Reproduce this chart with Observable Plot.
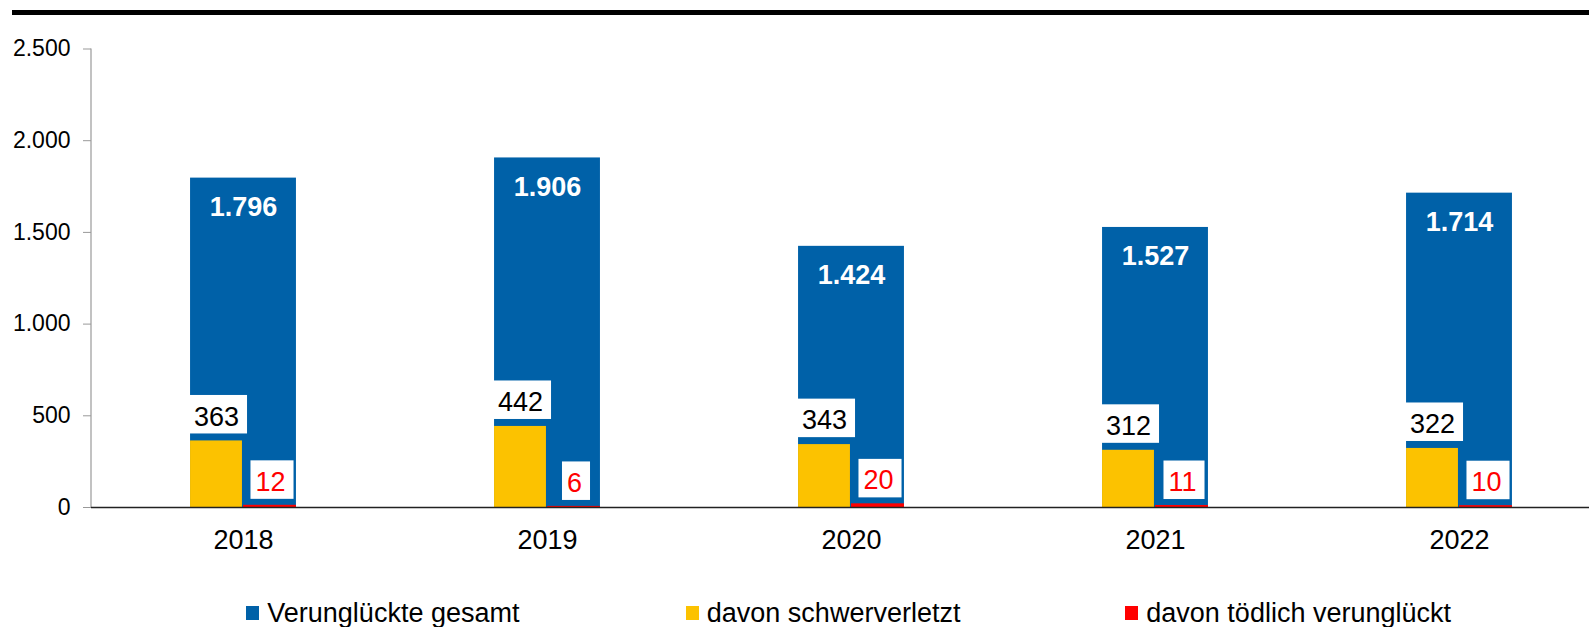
<!DOCTYPE html>
<html><head><meta charset="utf-8">
<script src="https://cdn.jsdelivr.net/npm/d3@7"></script>
<script src="https://cdn.jsdelivr.net/npm/@observablehq/plot@0.6"></script>
<style>
body{margin:0;background:#fff;font-family:"Liberation Sans",Arial,sans-serif;}
#wrap{position:relative;width:1589px;height:627px;overflow:hidden;background:#fff;}
#topline{position:absolute;left:12px;right:0;top:10px;height:5px;background:#000;}
#chart{position:absolute;left:0;top:0;}
.legend-item{position:absolute;top:599px;height:28px;display:flex;align-items:center;font-size:27px;line-height:28px;color:#000;white-space:nowrap;}
.sw{display:inline-block;width:13.3px;height:13.3px;margin-right:8px;}
</style></head><body>
<div id="wrap"><div id="chart"></div><div id="topline"></div><div id="legend"></div></div>
<script>
const years = ["2018","2019","2020","2021","2022"];
const total = [1796,1906,1424,1527,1714];
const serious = [363,442,343,312,322];
const fatal = [12,6,20,11,10];
const yTicks = [0,500,1000,1500,2000,2500];
const seriesNames = ["Verunglückte gesamt","davon schwerverletzt","davon tödlich verunglückt"];
const seriesColors = ["#0061a8","#fcc200","#ff0000"];

const data = years.map((year,i)=>({year,total:total[i],serious:serious[i],fatal:fatal[i]}));
const de = d3.formatLocale({decimal:",",thousands:".",grouping:[3],currency:["","\u00a0€"]});
const fmt = de.format(",d");

const W=1589,H=575, step=304.1, barW=106;
const side=(step-barW)/2;
const half=barW/2;
const font='"Liberation Sans", Arial, sans-serif';

const plot = Plot.plot({
  width:W,height:H,marginLeft:91,marginRight:0,marginTop:48.5,marginBottom:68,
  style:{fontFamily:font, background:"transparent", overflow:"visible"},
  x:{domain:years, range:[91, 91+step*years.length], padding:0, label:null},
  y:{domain:[0,2500], label:null},
  marks:[
    Plot.barY(data,{x:"year",y:"total",fill:seriesColors[0],insetLeft:side,insetRight:side}),
    Plot.barY(data,{x:"year",y:"serious",fill:seriesColors[1],insetLeft:side,insetRight:side+half+1}),
    Plot.barY(data,{x:"year",y:"fatal",fill:seriesColors[2],insetLeft:side+half,insetRight:side}),
    Plot.ruleY([0],{stroke:"#222",strokeWidth:1.5}),
    Plot.axisY({ticks:yTicks,tickFormat:fmt,tickSize:8,tickPadding:13,fontSize:23,stroke:"#999",fill:"#000",label:null}),
    Plot.axisX({tickSize:0,tickPadding:22,fontSize:27,fill:"#000",label:null}),
    Plot.text(data,{x:"year",y:"total",text:d=>fmt(d.total),dy:29,fill:"#fff",fontWeight:"bold",fontSize:27}),
    Plot.text(data,{x:"year",y:"serious",text:d=>fmt(d.serious),dx:-27,dy:-24,fill:"#000",fontSize:27,ariaDescription:"boxed"}),
    Plot.text(data,{x:"year",y:"fatal",text:d=>fmt(d.fatal),dx:27,dy:-23,fill:"#ff0000",fontSize:27,ariaDescription:"boxed"})
  ]
});
document.getElementById("chart").appendChild(plot);

// y axis line using the plot's scales
const ys = plot.scale("y"), xs = plot.scale("x");
const x0 = xs.range[0];
d3.select(plot).insert("line", ":first-child")
  .attr("x1", x0).attr("x2", x0)
  .attr("y1", ys.apply(0)).attr("y2", ys.apply(2500))
  .attr("stroke", "#999").attr("stroke-width", 1.2);

// white boxes behind the small labels
d3.select(plot).selectAll('g[aria-description="boxed"] text').each(function(){
  const b = this.getBBox();
  const r = document.createElementNS("http://www.w3.org/2000/svg","rect");
  r.setAttribute("x", b.x - 5);
  r.setAttribute("y", b.y - 6.6);
  r.setAttribute("width", b.width + 13);
  r.setAttribute("height", b.height + 8.5);
  r.setAttribute("fill", "#fff");
  r.setAttribute("stroke", "none");
  const t = this.getAttribute("transform");
  if (t) r.setAttribute("transform", t);
  this.parentNode.insertBefore(r, this);
});

// legend
const legend = document.getElementById("legend");
seriesNames.forEach((n,i)=>{
  const d = document.createElement("div");
  d.className = "legend-item";
  d.style.left = (246 + i*439.5) + "px";
  const sw = document.createElement("span");
  sw.className = "sw"; sw.style.background = seriesColors[i];
  const tx = document.createElement("span"); tx.textContent = n;
  d.appendChild(sw); d.appendChild(tx);
  legend.appendChild(d);
});
</script>
</body></html>
